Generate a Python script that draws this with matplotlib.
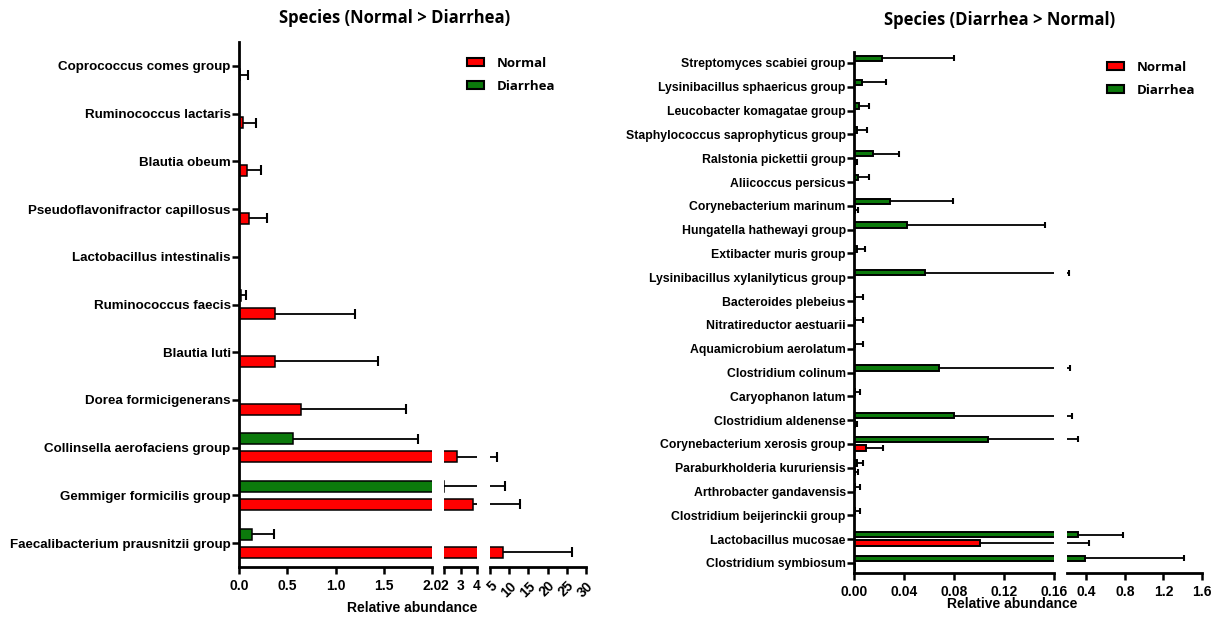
import matplotlib
matplotlib.use("Agg")
import matplotlib.pyplot as plt
import numpy as np
from matplotlib.patches import Patch

# ---- data ----
species_left = ["Coprococcus comes group", "Ruminococcus lactaris", "Blautia obeum",
                "Pseudoflavonifractor capillosus", "Lactobacillus intestinalis",
                "Ruminococcus faecis", "Blautia luti", "Dorea formicigenerans",
                "Collinsella aerofaciens group", "Gemmiger formicilis group",
                "Faecalibacterium prausnitzii group"]
normal_left = [0.01, 0.04, 0.08, 0.10, 0.0, 0.37, 0.37, 0.64, 2.8, 3.76, 8.4]
normal_left_err = [0.08, 0.14, 0.15, 0.19, 0.0, 0.83, 1.07, 1.09, 4.0, 9.0, 18.0]
diarrhea_left = [0.0, 0.0, 0.0, 0.0, 0.0, 0.02, 0.0, 0.0, 0.56, 2.02, 0.13]
diarrhea_left_err = [0.0, 0.0, 0.0, 0.0, 0.0, 0.05, 0.0, 0.0, 1.30, 6.9, 0.23]

species_right = ["Streptomyces scabiei group", "Lysinibacillus sphaericus group",
                 "Leucobacter komagatae group", "Staphylococcus saprophyticus group",
                 "Ralstonia pickettii group", "Aliicoccus persicus",
                 "Corynebacterium marinum", "Hungatella hathewayi group",
                 "Extibacter muris group", "Lysinibacillus xylanilyticus group",
                 "Bacteroides plebeius", "Nitratireductor aestuarii",
                 "Aquamicrobium aerolatum", "Clostridium colinum", "Caryophanon latum",
                 "Clostridium aldenense", "Corynebacterium xerosis group",
                 "Paraburkholderia kururiensis", "Arthrobacter gandavensis",
                 "Clostridium beijerinckii group", "Lactobacillus mucosae",
                 "Clostridium symbiosum"]
diarrhea_right = [0.022, 0.0066, 0.004, 0.002, 0.015, 0.003, 0.029, 0.042, 0.002, 0.057,
                  0.001, 0.001, 0.0008, 0.068, 0.0006, 0.080, 0.107, 0.002, 0.0005, 0.0005,
                  0.31, 0.39]
diarrhea_right_err = [0.058, 0.019, 0.008, 0.0085, 0.021, 0.009, 0.050, 0.111, 0.007, 0.163,
                      0.006, 0.006, 0.0062, 0.162, 0.0044, 0.17, 0.203, 0.005, 0.0045, 0.0045,
                      0.47, 1.02]
normal_right = [0, 0, 0, 0, 0.001, 0, 0.001, 0, 0, 0, 0, 0, 0, 0, 0, 0.001, 0.0096,
                0.001, 0, 0, 0.101, 0.001]
normal_right_err = [0, 0, 0, 0, 0.001, 0, 0.002, 0, 0, 0, 0, 0, 0, 0, 0, 0.001, 0.0134,
                    0.002, 0, 0, 0.33, 0.0]

RED = "#ff0000"
GREEN = "#0c7a0c"
W, H = 1215, 618

plt.rcParams["font.family"] = ["Liberation Sans", "DejaVu Sans"]
plt.rcParams["font.weight"] = "bold"

fig = plt.figure(figsize=(W / 100, H / 100), dpi=100)


def px_axes(x0, x1, ytop, ybot):
    return fig.add_axes([x0 / W, 1 - ybot / H, (x1 - x0) / W, (ybot - ytop) / H])


def draw_bars(ax, n, vals, errs, off, h, color, capms, lw_edge):
    y = np.arange(n) + off
    ax.barh(y, vals, height=h, color=color, edgecolor="black", linewidth=lw_edge)
    for yi, v, e in zip(y, vals, errs):
        if e > 0:
            ax.hlines(yi, v, v + e, color="black", lw=1.3)
            ax.plot(v + e, yi, marker="|", ms=capms, mew=1.5, color="black", ls="none")


def style_seg(ax, first, ylim, ysize):
    ax.set_ylim(*ylim)
    for s in ["top", "right"]:
        ax.spines[s].set_visible(False)
    ax.spines["bottom"].set_linewidth(2)
    ax.tick_params(axis="x", width=1.8, length=5, labelsize=10)
    if first:
        ax.spines["left"].set_linewidth(2)
        ax.tick_params(axis="y", width=1.8, length=5, labelsize=ysize, pad=1)
    else:
        ax.spines["left"].set_visible(False)
        ax.tick_params(axis="y", left=False, labelleft=False)
    for t in ax.get_xticklabels() + ax.get_yticklabels():
        t.set_fontweight("bold")


# ---- left panel ----
nl = len(species_left)
segs_l = [(239, 432, (0, 2.0)), (444, 477, (2, 4)), (490, 586, (5, 30))]
axes_l = []
for i, (x0, x1, xl) in enumerate(segs_l):
    ax = px_axes(x0, x1, 42, 567)
    draw_bars(ax, nl, normal_left, normal_left_err, 0.19, 0.23, RED, 7, 1.1)
    draw_bars(ax, nl, diarrhea_left, diarrhea_left_err, -0.19, 0.23, GREEN, 7, 1.1)
    ax.set_xlim(*xl)
    axes_l.append(ax)
axes_l[0].set_xticks([0, 0.5, 1.0, 1.5, 2.0])
axes_l[0].set_xticklabels(["0.0", "0.5", "1.0", "1.5", "2.0"])
axes_l[0].set_yticks(range(nl))
axes_l[0].set_yticklabels(species_left)
axes_l[1].set_xticks([2, 3, 4])
axes_l[2].set_xticks([5, 10, 15, 20, 25, 30])
for i, ax in enumerate(axes_l):
    style_seg(ax, i == 0, (nl - 0.5, -0.5), 9.6)
for t in axes_l[2].get_xticklabels():
    t.set_rotation(45)
    t.set_ha("right")
    t.set_va("top")
    t.set_rotation_mode("anchor")

fig.text(395 / W, 1 - 18 / H, "Species (Normal > Diarrhea)", ha="center", va="center",
         fontsize=12, fontweight="bold", family=["Open Sans", "DejaVu Sans"])
fig.text(412 / W, 1 - 608 / H, "Relative abundance", ha="center", va="center",
         fontsize=10, fontweight="bold")
handles = [Patch(facecolor=RED, edgecolor="black", lw=1.5, label="Normal"),
           Patch(facecolor=GREEN, edgecolor="black", lw=1.5, label="Diarrhea")]
fig.legend(handles=handles, loc="upper left", bbox_to_anchor=(455 / W, 1 - 45 / H),
           frameon=False, handlelength=1.3, handleheight=0.6, labelspacing=0.75,
           handletextpad=1.0, prop={"family": ["Open Sans", "DejaVu Sans"],
                                    "weight": "bold", "size": 9.5})

# ---- right panel ----
nr = len(species_right)
segs_r = [(854, 1054, (0, 0.16)), (1067, 1202, (0.2, 1.6))]
axes_r = []
for i, (x0, x1, xl) in enumerate(segs_r):
    ax = px_axes(x0, x1, 52, 573)
    draw_bars(ax, nr, normal_right, normal_right_err, 0.17, 0.23, RED, 4, 1.4)
    draw_bars(ax, nr, diarrhea_right, diarrhea_right_err, -0.19, 0.23, GREEN, 4, 1.4)
    ax.set_xlim(*xl)
    axes_r.append(ax)
axes_r[0].set_xticks([0, 0.04, 0.08, 0.12, 0.16])
axes_r[0].set_xticklabels(["0.00", "0.04", "0.08", "0.12", "0.16"])
axes_r[0].set_yticks(range(nr))
axes_r[0].set_yticklabels(species_right)
axes_r[1].set_xticks([0.4, 0.8, 1.2, 1.6])
axes_r[1].set_xticklabels(["0.4", "0.8", "1.2", "1.6"])
for i, ax in enumerate(axes_r):
    style_seg(ax, i == 0, (nr - 0.58, -0.46), 8.8)

fig.text(1000 / W, 1 - 20 / H, "Species (Diarrhea > Normal)", ha="center", va="center",
         fontsize=12, fontweight="bold", family=["Open Sans", "DejaVu Sans"])
fig.text(1012 / W, 1 - 604 / H, "Relative abundance", ha="center", va="center",
         fontsize=10, fontweight="bold")
fig.legend(handles=handles, loc="upper left", bbox_to_anchor=(1095 / W, 1 - 49 / H),
           frameon=False, handlelength=1.3, handleheight=0.6, labelspacing=0.75,
           handletextpad=1.0, prop={"family": ["Open Sans", "DejaVu Sans"],
                                    "weight": "bold", "size": 9.5})

fig.savefig("out.png", dpi=100)
